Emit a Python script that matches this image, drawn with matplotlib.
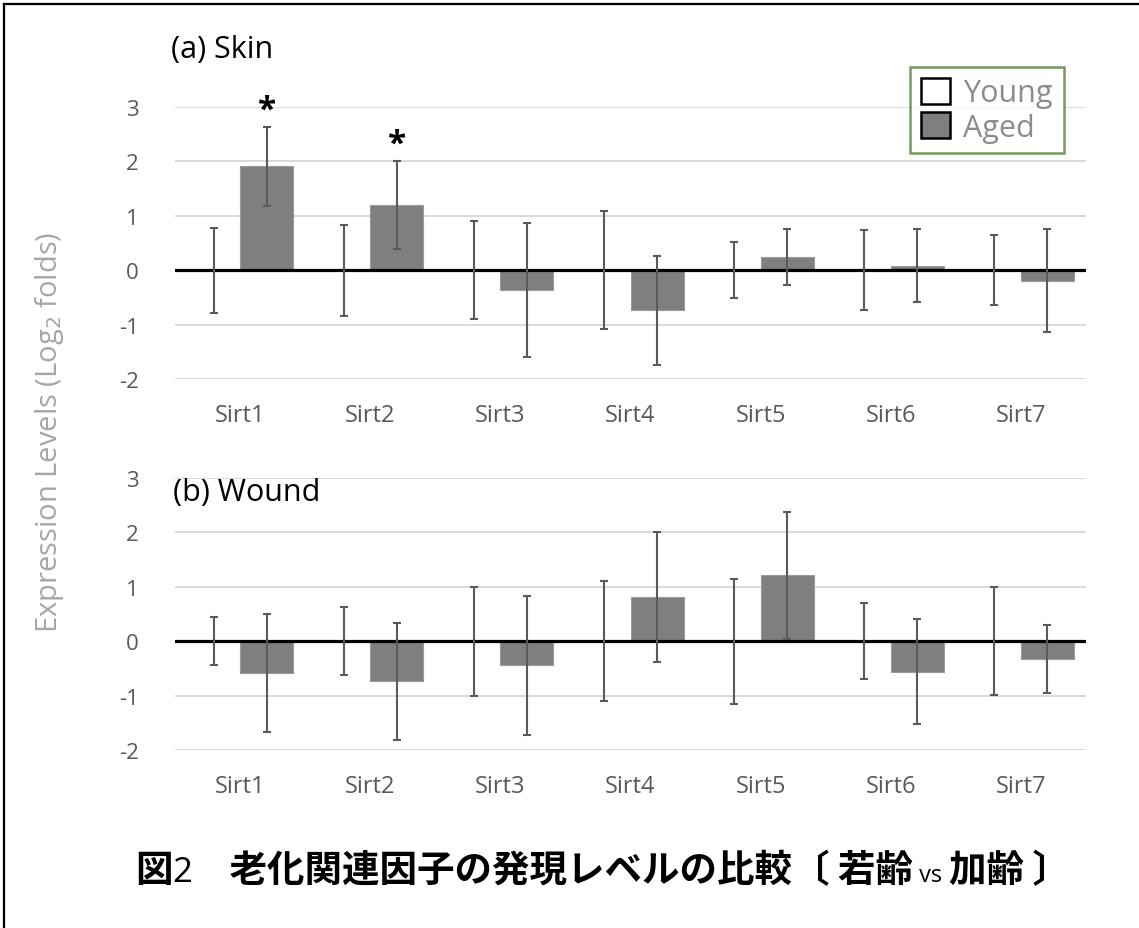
import numpy as np
import matplotlib
matplotlib.use('Agg')
import matplotlib.pyplot as plt
from matplotlib.patches import Patch
from matplotlib.lines import Line2D

# --- datos: Sirt1..Sirt7, log2 fold (Young = referencia 0) ---
genes = ['Sirt1', 'Sirt2', 'Sirt3', 'Sirt4', 'Sirt5', 'Sirt6', 'Sirt7']

skin_young = [0, 0, 0, 0, 0, 0, 0]
skin_young_err = [0.78, 0.84, 0.90, 1.08, 0.52, 0.73, 0.64]
skin_aged = [1.91, 1.20, -0.37, -0.74, 0.24, 0.08, -0.19]
skin_aged_err = [0.73, 0.81, 1.23, 1.01, 0.51, 0.67, 0.95]
skin_sig = ['*', '*', '', '', '', '', '']

wound_young = [0, 0, 0, 0, 0, 0, 0]
wound_young_err = [0.44, 0.62, 1.00, 1.10, 1.15, 0.70, 0.99]
wound_aged = [-0.58, -0.74, -0.44, 0.81, 1.21, -0.56, -0.33]
wound_aged_err = [1.08, 1.08, 1.28, 1.20, 1.17, 0.96, 0.63]

yticks = [-2, -1, 0, 1, 2, 3]

W, H = 1139, 929
fig = plt.figure(figsize=(W / 100, H / 100), dpi=100)

sans = ['Open Sans', 'DejaVu Sans']
cjk = ['Noto Sans CJK JP', 'DejaVu Sans']
gris_eje = '#595959'
color_aged = '#7f7f7f'


def panel(rect, young, young_err, aged, aged_err, titulo, titulo_y, sig=None):
    ax = fig.add_axes(rect)
    x = np.arange(len(genes))
    w = 0.407
    off = 0.204
    ax.bar(x - off, young, w, color='white', zorder=2)
    ax.bar(x + off, aged, w, color=color_aged, edgecolor='#9a9a9a', linewidth=0.8, zorder=2)
    eb = dict(fmt='none', ecolor='#5a5a5a', elinewidth=1.5, capsize=3, capthick=1.5, zorder=4)
    ax.errorbar(x - off, young, yerr=young_err, **eb)
    ax.errorbar(x + off, aged, yerr=aged_err, **eb)
    ax.axhline(0, color='black', linewidth=2.3, zorder=3)
    ax.set_xlim(-0.5, len(genes) - 0.5)
    ax.set_ylim(-2, 3)
    ax.set_yticks(yticks)
    ax.set_yticklabels([str(t) for t in yticks])
    ax.set_xticks(x)
    ax.set_xticklabels(genes)
    ax.grid(axis='y', color='#d9d9d9', linewidth=1.4, zorder=0)
    ax.set_axisbelow(True)
    for s in ax.spines.values():
        s.set_visible(False)
    ax.tick_params(axis='y', length=0, pad=26, labelsize=16, labelcolor=gris_eje)
    ax.tick_params(axis='x', length=0, pad=17, labelsize=17, labelcolor=gris_eje)
    for lab in ax.get_xticklabels() + ax.get_yticklabels():
        lab.set_family(sans)
    if sig:
        for xi, v, e, s in zip(x, aged, aged_err, sig):
            if s:
                ax.text(xi + off, v + e + 0.0, s, ha='center', va='bottom',
                        fontsize=24, fontweight='bold', family=sans, clip_on=False)
    fig.text(titulo[1], titulo_y, titulo[0], fontsize=22, family=sans, va='center')
    return ax


ax1 = panel([175 / W, 1 - 380 / H, 911 / W, 272 / H], skin_young, skin_young_err,
            skin_aged, skin_aged_err, ('(a) Skin', 171 / W), 1 - 50 / H, skin_sig)
ax2 = panel([175 / W, 1 - 751 / H, 911 / W, 272 / H], wound_young, wound_young_err,
            wound_aged, wound_aged_err, ('(b) Wound', 173 / W), 1 - 493 / H)

# leyenda con marco verde
handles = [Patch(facecolor='white', edgecolor='black', linewidth=1.8, label='Young'),
           Patch(facecolor=color_aged, edgecolor='black', linewidth=1.8, label='Aged')]
leg = fig.legend(handles=handles, loc='upper left', bbox_to_anchor=(910 / W, 1 - 68 / H),
                 frameon=True, fancybox=False, edgecolor='#548235',
                 handlelength=0.95, handleheight=0.95, handletextpad=0.45,
                 borderpad=0.35, labelspacing=0.12, borderaxespad=0,
                 prop={'family': sans, 'size': 22})
leg.get_frame().set_linewidth(1.8)
for t in leg.get_texts():
    t.set_color('#8c8c8c')

fig.text(50 / W, 1 - 432 / H, 'Expression Levels (Log$_2$ folds)', rotation=90,
         ha='center', va='center', fontsize=21, color='#a6a6a6', family=sans)

# pie de figura, por trozos con distinto peso
piezas = [('図', cjk, 'bold', 27), ('2', sans, 'normal', 25),
          ('　老化関連因子の発現レベルの比較〔 若齢', cjk, 'bold', 27),
          (' vs ', sans, 'normal', 17), ('加齢 〕', cjk, 'bold', 27)]
renderer = fig.canvas.get_renderer()
x_px = 135
y_base = 1 - 882 / H
for txt, fam, peso, tam in piezas:
    t = fig.text(x_px / W, y_base, txt, family=fam, fontweight=peso, fontsize=tam,
                 va='baseline', ha='left', color='black')
    x_px += t.get_window_extent(renderer).width

# marco de la figura (lados izquierdo y superior)
fig.add_artist(Line2D([4 / W, 4 / W], [0, 1 - 5 / H], color='black', linewidth=1.6))
fig.add_artist(Line2D([4 / W, 1], [1 - 5 / H, 1 - 5 / H], color='black', linewidth=1.6))

fig.savefig('out.png', dpi=100)
